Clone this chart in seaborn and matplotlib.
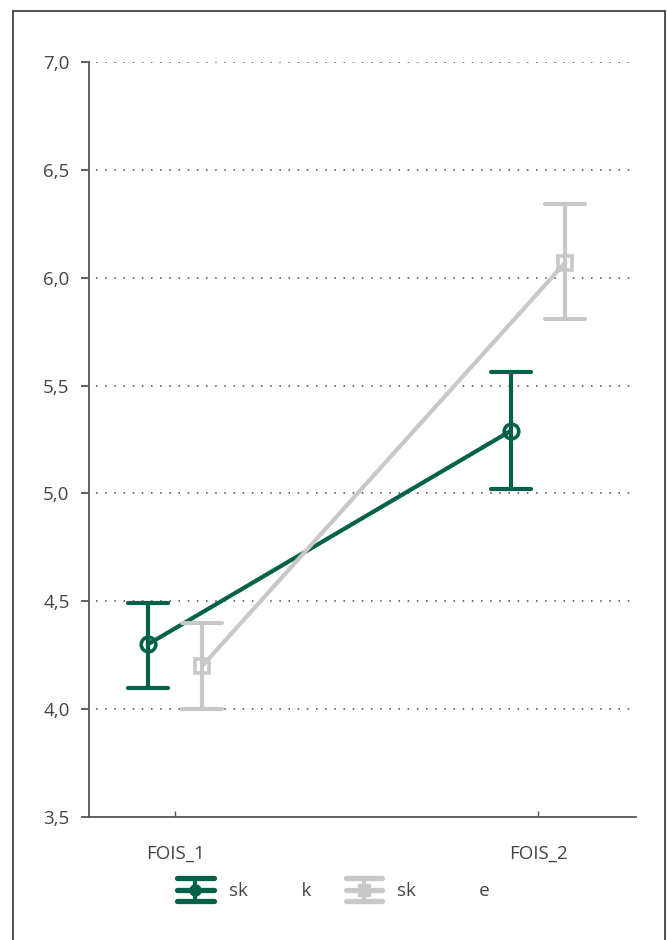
import matplotlib
matplotlib.use("Agg")
import matplotlib.pyplot as plt
import seaborn as sns
import pandas as pd
from matplotlib.lines import Line2D
from matplotlib.legend_handler import HandlerBase

# values
times = ["FOIS_1", "FOIS_2"]
groups = ["sk           k", "sk             e"]
mean_k = [4.30, 5.29]
low_k = [4.10, 5.02]
high_k = [4.49, 5.565]
mean_e = [4.20, 6.07]
low_e = [4.00, 5.81]
high_e = [4.40, 6.34]

GREEN = "#05614a"
GRAY = "#c8c8c8"
TEXT = "#444444"

rows = []
for g, m, lo, hi in [(groups[0], mean_k, low_k, high_k), (groups[1], mean_e, low_e, high_e)]:
    for t, a, b, c in zip(times, m, lo, hi):
        for v in (b, a, c):
            rows.append({"time": t, "group": g, "value": v})
df = pd.DataFrame(rows)

sns.set_style("white")
plt.rcParams["font.family"] = ["Open Sans", "DejaVu Sans"]

fig = plt.figure(figsize=(6.67, 9.4), dpi=100)
ax = fig.add_axes([0.1334, 0.1309, 0.9535 - 0.1334, 0.934 - 0.1309])

sns.pointplot(data=df, x="time", y="value", hue="group", palette=[GREEN, GRAY],
              markers=["o", "s"], linestyles=["-", "-"], dodge=0.15,
              estimator="median", errorbar=lambda v: (v.min(), v.max()),
              capsize=0.11, err_kws={"linewidth": 3}, linewidth=3,
              markersize=10.5, markeredgewidth=2.6, markerfacecolor="none",
              legend=False, ax=ax)

ax.set_ylim(3.5, 7.0)
ax.set_xlim(-0.237, 1.27)
yt = [3.5, 4.0, 4.5, 5.0, 5.5, 6.0, 6.5, 7.0]
ax.set_yticks(yt)
ax.set_yticklabels([f"{v:.1f}".replace(".", ",") for v in yt])
for v in yt[1:]:
    ax.axhline(v, color="#444444", lw=1.1, ls=(0, (1, 5)), zorder=0, xmin=0.012)
ax.set_xlabel("")
ax.set_ylabel("")

for s in ["top", "right"]:
    ax.spines[s].set_visible(False)
for s in ["left", "bottom"]:
    ax.spines[s].set_color("#555555")
    ax.spines[s].set_linewidth(1.3)
ax.tick_params(axis="y", direction="out", length=6, width=1.3, color="#555555",
               labelsize=13.5, labelcolor=TEXT, left=True, pad=8)
ax.tick_params(axis="x", direction="in", length=4, width=1.0, color="#555555",
               labelsize=13.5, labelcolor=TEXT, bottom=True, pad=20)


class ErrHandler(HandlerBase):
    def __init__(self, color, marker):
        super().__init__()
        self.color = color
        self.marker = marker

    def create_artists(self, legend, orig_handle, xdescent, ydescent, width, height, fontsize, trans):
        cy = height / 2 - ydescent
        d = 8
        arts = []
        for yy in (cy - d, cy, cy + d):
            arts.append(Line2D([-xdescent, width - xdescent], [yy, yy], color=self.color,
                               lw=3.8, solid_capstyle="round", transform=trans))
        arts.append(Line2D([width / 2 - xdescent] * 2, [cy - d, cy + d], color=self.color,
                           lw=3, transform=trans))
        arts.append(Line2D([width / 2 - xdescent], [cy], marker=self.marker, color=self.color,
                           ms=8, transform=trans))
        return arts


h1 = Line2D([], [])
h2 = Line2D([], [])
fig.legend([h1, h2], groups, loc="center", bbox_to_anchor=(0.50, 0.052),
           ncol=2, frameon=False, fontsize=13.5, handlelength=1.95, columnspacing=1.85,
           handletextpad=0.8, labelcolor=TEXT,
           handler_map={h1: ErrHandler(GREEN, "o"), h2: ErrHandler(GRAY, "s")})

# figure frame
x0, x1, y1 = 12.5 / 667, 665 / 667, 1 - 10.5 / 940
for xs, ys in [([x0, x0], [0, y1]), ([x0, x1], [y1, y1]), ([x1, x1], [y1, 0])]:
    fig.add_artist(Line2D(xs, ys, transform=fig.transFigure, color="#333333", lw=1.2))

fig.savefig("out.png", dpi=100)
